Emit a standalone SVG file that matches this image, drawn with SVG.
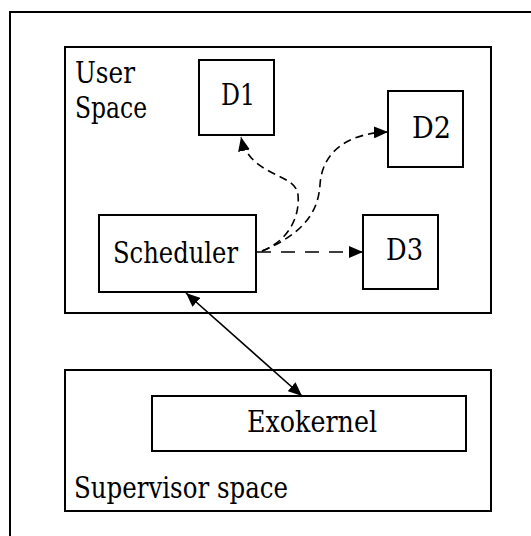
<svg xmlns="http://www.w3.org/2000/svg" width="531" height="536" viewBox="0 0 531 536">
<style>
.box{fill:#fff;stroke:#000;stroke-width:2}
.frame{fill:none;stroke:#000;stroke-width:2}
text{font-family:"DejaVu Serif","Liberation Serif",serif;font-size:29px;fill:#000}
.dash{fill:none;stroke:#000;stroke-width:1.6;stroke-dasharray:8 5}
.dash2{fill:none;stroke:#000;stroke-width:1.6;stroke-dasharray:14 10}
.solid{fill:none;stroke:#000;stroke-width:1.6}
</style>
<defs>
<marker id="ah" viewBox="0 0 14 12" refX="14" refY="6" markerWidth="14" markerHeight="12" markerUnits="userSpaceOnUse" orient="auto-start-reverse">
<path d="M0,0 L14,6 L0,12 Z" fill="#000"/>
</marker>
</defs>
<rect class="frame" x="10" y="12" width="560" height="560"/>
<g id="user-space">
<rect class="box" x="65" y="47" width="426" height="266"/>
<text x="75" y="83" textLength="60" lengthAdjust="spacingAndGlyphs">User</text>
<text x="75" y="118" textLength="72" lengthAdjust="spacingAndGlyphs">Space</text>
</g>
<g id="supervisor-space">
<rect class="box" x="65" y="370" width="426" height="141"/>
<text x="74" y="498" textLength="214" lengthAdjust="spacingAndGlyphs">Supervisor space</text>
</g>
<g id="d1">
<rect class="box" x="199" y="60" width="75" height="75"/>
<text x="221" y="105" textLength="34" lengthAdjust="spacingAndGlyphs">D1</text>
</g>
<g id="d2">
<rect class="box" x="388" y="91" width="75" height="76"/>
<text x="412" y="138" textLength="39" lengthAdjust="spacingAndGlyphs">D2</text>
</g>
<g id="scheduler">
<rect class="box" x="99" y="215" width="157" height="77"/>
<text x="113" y="263" textLength="125" lengthAdjust="spacingAndGlyphs">Scheduler</text>
</g>
<g id="d3">
<rect class="box" x="363" y="215" width="75" height="74"/>
<text x="386" y="260" textLength="37" lengthAdjust="spacingAndGlyphs">D3</text>
</g>
<g id="exokernel">
<rect class="box" x="152" y="396" width="314" height="55"/>
<text x="247" y="432" textLength="130" lengthAdjust="spacingAndGlyphs">Exokernel</text>
</g>
<g id="connectors">
<path class="solid" d="M186,293 L302,396" marker-start="url(#ah)" marker-end="url(#ah)"/>
<path class="dash2" d="M257,252 L363,252" marker-end="url(#ah)"/>
<path class="dash" d="M262,251 C290,240 300,215 298,195 C296,172 250,178 241,137" marker-end="url(#ah)"/>
<path class="dash" d="M262,251 C300,235 318,215 320,185 C322,150 350,133 388,132" marker-end="url(#ah)"/>
</g>
</svg>
